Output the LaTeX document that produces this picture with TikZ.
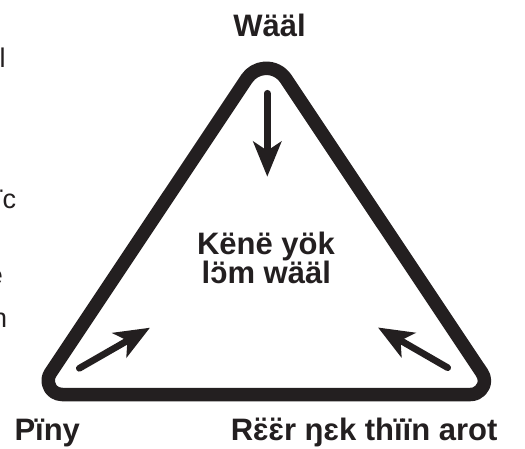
\documentclass[tikz,border=0pt]{standalone}
\usepackage{fontspec}
\setmainfont{Liberation Sans}
\usetikzlibrary{arrows.meta}
\definecolor{ink}{HTML}{231F20}
\begin{document}
\begin{tikzpicture}[x=1pt,y=1pt,
  frame/.style={draw=ink, line width=13.5pt, line join=round},
  flow/.style={draw=ink, line width=6.7pt, line cap=round,
    -{Stealth[length=35pt,width=28pt,inset=9pt]}},
  lab/.style={inner sep=0pt, text=ink, font=\bfseries\fontsize{31}{36}\selectfont},
  frag/.style={inner sep=0pt, text=ink, font=\fontsize{27}{32}\selectfont, anchor=base west}]
\useasboundingbox (0,0) rectangle (525,448);
% left-edge text fragments (cut by the picture edge, as in the reference)
\node[frag] (f1) at (-0.5,380) {l};
\node[frag] (f2) at (-5.2,240) {ïc};
\node[frag] (f3) at (-12.3,164) {e};
\node[frag] (f4) at (-8.1,121) {n};
% triangle
\draw[frame] (62,53.5) -- (470.6,53.5)
  arc[start angle=-90, end angle=33.8, radius=13.8]
  -- (285.8,369.3)
  arc[start angle=33.8, end angle=146.2, radius=23.5]
  -- (50.5,75)
  arc[start angle=146.2, end angle=270, radius=13.8] -- cycle;
% arrows
\coordinate (t0) at (267.3,354.7);
\coordinate (t1) at (267.3,271.3);
\coordinate (l0) at (79.3,79.7);
\coordinate (l1) at (150,120.3);
\coordinate (r0) at (447.7,80.3);
\coordinate (r1) at (378,120.5);
\draw[flow] (t0) -- (t1);
\draw[flow] (l0) -- (l1);
\draw[flow] (r0) -- (r1);
% labels
\node[lab, anchor=base] (top) at (269.5,411.3) {Wääl};
\node[lab, anchor=base] (mid1) at (266,193.7) {Kënë yök};
\node[lab, anchor=base] (mid2) at (266.3,164.7) {lɔ̈m wääl};
\node[lab, anchor=base west] (bl) at (14.3,8) {Pïny};
\node[lab, anchor=base west] (br) at (230.6,8) {Rɛ̈ɛ̈r ŋɛk thïïn arot};
\end{tikzpicture}
\end{document}
